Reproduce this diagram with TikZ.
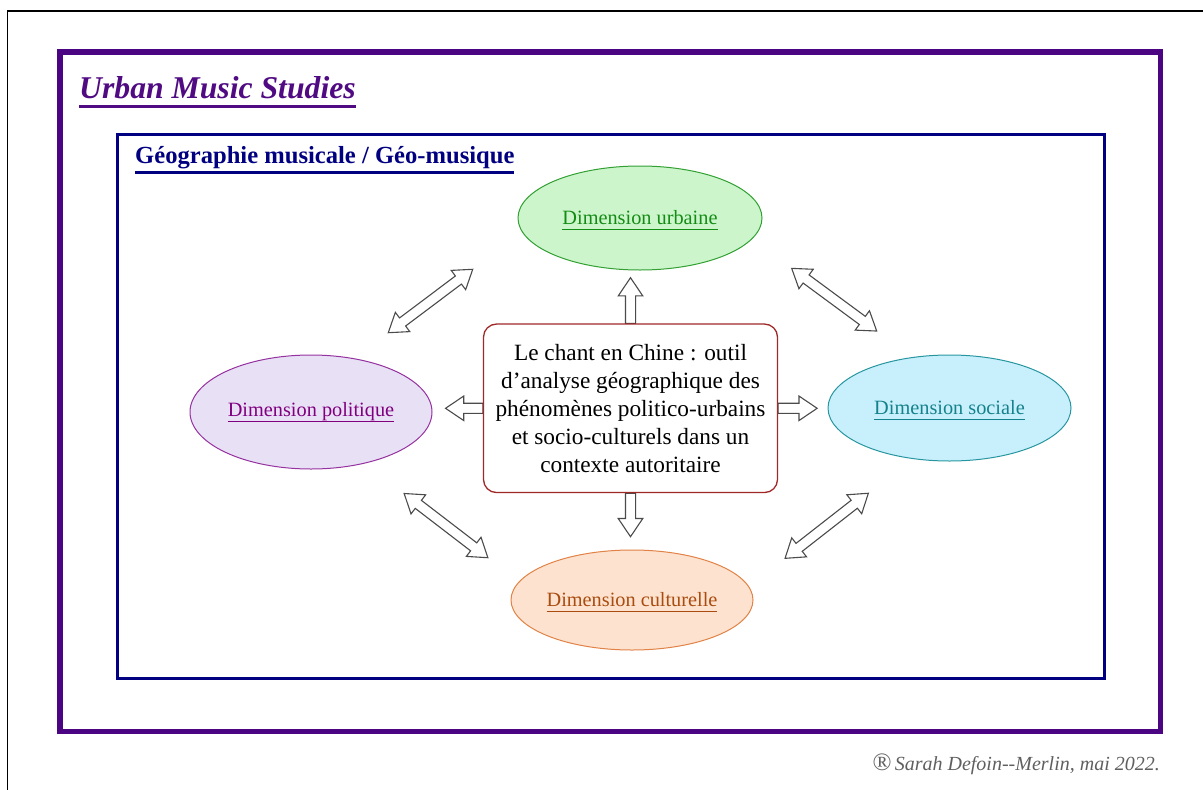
\documentclass[tikz,border=0pt]{standalone}
\usepackage{fontspec}
\setmainfont{Liberation Serif}
\usetikzlibrary{shapes.geometric,shapes.arrows,backgrounds}

\definecolor{framepurple}{RGB}{75,5,130}
\definecolor{titlepurple}{RGB}{80,10,130}
\definecolor{framenavy}{RGB}{0,0,128}
\definecolor{urbFill}{RGB}{204,245,204}
\definecolor{urbDraw}{RGB}{50,160,50}
\definecolor{urbText}{RGB}{20,140,20}
\definecolor{polFill}{RGB}{232,224,245}
\definecolor{polDraw}{RGB}{150,50,160}
\definecolor{polText}{RGB}{128,0,128}
\definecolor{socFill}{RGB}{200,240,252}
\definecolor{socDraw}{RGB}{40,150,160}
\definecolor{socText}{RGB}{20,130,140}
\definecolor{culFill}{RGB}{253,227,207}
\definecolor{culDraw}{RGB}{225,130,70}
\definecolor{culText}{RGB}{170,75,15}
\definecolor{boxred}{RGB}{160,40,40}
\definecolor{arrowgray}{RGB}{75,75,75}
\definecolor{copygray}{RGB}{95,95,95}

% underline: #1 = depth of rule bottom, #2 = thickness, #3 = text
\newsavebox\ulsave
\newcommand\ulbox[3]{\sbox\ulsave{#3}\rlap{\raisebox{0pt}[0pt][0pt]{\rule[-#1]{\wd\ulsave}{#2}}}\usebox\ulsave}
\newcommand\myul[1]{\ulbox{5.3pt}{1.3pt}{#1}}

\tikzset{
  ell/.style={ellipse, line width=1pt, inner sep=0pt, font=\fontsize{20.3}{24}\selectfont},
  blk/.style={draw=arrowgray, fill=white, line width=1.1pt, inner xsep=0pt, inner ysep=4.5pt, outer sep=0pt},
  sarr/.style={blk, single arrow, single arrow head extend=7.2pt, single arrow tip angle=68, minimum height=#1},
  darr/.style={blk, double arrow, double arrow head extend=7pt, double arrow tip angle=68, minimum height=#1},
}

\begin{document}
\begin{tikzpicture}[x=1pt,y=-1pt]
\useasboundingbox (0,0) rectangle (1203,790);

% page edge lines
\draw[line width=1.3pt] (7.5,790) -- (7.5,11) -- (1203,11);

% frames
\draw[framepurple, line width=5.3pt] (60,52) rectangle (1160.8,731.7);
\draw[framenavy, line width=3pt] (117.3,134) rectangle (1104.2,678.3);

% titles
\node[anchor=base west, inner sep=0pt, text=titlepurple,
      font=\bfseries\itshape\fontsize{31.7}{38}\selectfont] (title) at (79,98.3)
  {\ulbox{9.7pt}{2.7pt}{Urban Music Studies}};
\node[anchor=base west, inner sep=0pt, text=framenavy,
      font=\bfseries\fontsize{24.6}{30}\selectfont] (subtitle) at (135,163.5)
  {\ulbox{10.7pt}{3pt}{Géographie musicale / Géo-musique}};

% central box
\node[draw=boxred, fill=white, line width=1.3pt, rounded corners=13pt,
      minimum width=294pt, minimum height=168.5pt, inner sep=0pt, align=center,
      font=\fontsize{23.3}{28.1}\selectfont] (box) at (630.5,408.3)
  {Le chant en Chine : outil\\d’analyse géographique des\\phénomènes politico-urbains\\et socio-culturels dans un\\contexte autoritaire};

% ellipses
\node[ell, draw=urbDraw, fill=urbFill, text=urbText, minimum width=244pt, minimum height=104pt]
  (urb) at (640,218) {\myul{Dimension urbaine}};
\node[ell, draw=polDraw, fill=polFill, text=polText, minimum width=242pt, minimum height=114pt]
  (pol) at (311,412) {\myul{Dimension politique}};
\node[ell, draw=socDraw, fill=socFill, text=socText, minimum width=243pt, minimum height=106pt]
  (soc) at (949.5,408) {\myul{Dimension sociale}};
\node[ell, draw=culDraw, fill=culFill, text=culText, minimum width=242pt, minimum height=100pt]
  (cul) at (632,600) {\myul{Dimension culturelle}};

% straight block arrows from the central box
\begin{scope}[on background layer]
\node[sarr=45.7pt, rotate=90,  anchor=tail] (aup)    at (box.north) {};
\node[sarr=43.5pt, rotate=-90, anchor=tail] (adown)  at (box.south) {};
\node[sarr=37.3pt, rotate=180, anchor=tail] (aleft)  at (box.west)  {};
\node[sarr=39pt,   rotate=0,   anchor=tail] (aright) at (box.east)  {};
\end{scope}

% diagonal double arrows
\node[darr=105.6pt, rotate=36.9]  (dtl) at (430.5,301) {};
\node[darr=105.6pt, rotate=-36.4] (dtr) at (834.2,299.7) {};
\node[darr=105.5pt, rotate=-37.5] (dbl) at (446,525.6) {};
\node[darr=105.7pt, rotate=38]    (dbr) at (826.7,525.8) {};

% copyright
\node[anchor=base east, inner sep=0pt, text=copygray,
      font=\itshape\fontsize{20}{24}\selectfont] (copy) at (1160,770.7)
  {{\upshape\fontsize{25}{25}\selectfont\textregistered}\,Sarah Defoin-{}-Merlin, mai 2022.};
\end{tikzpicture}
\end{document}
